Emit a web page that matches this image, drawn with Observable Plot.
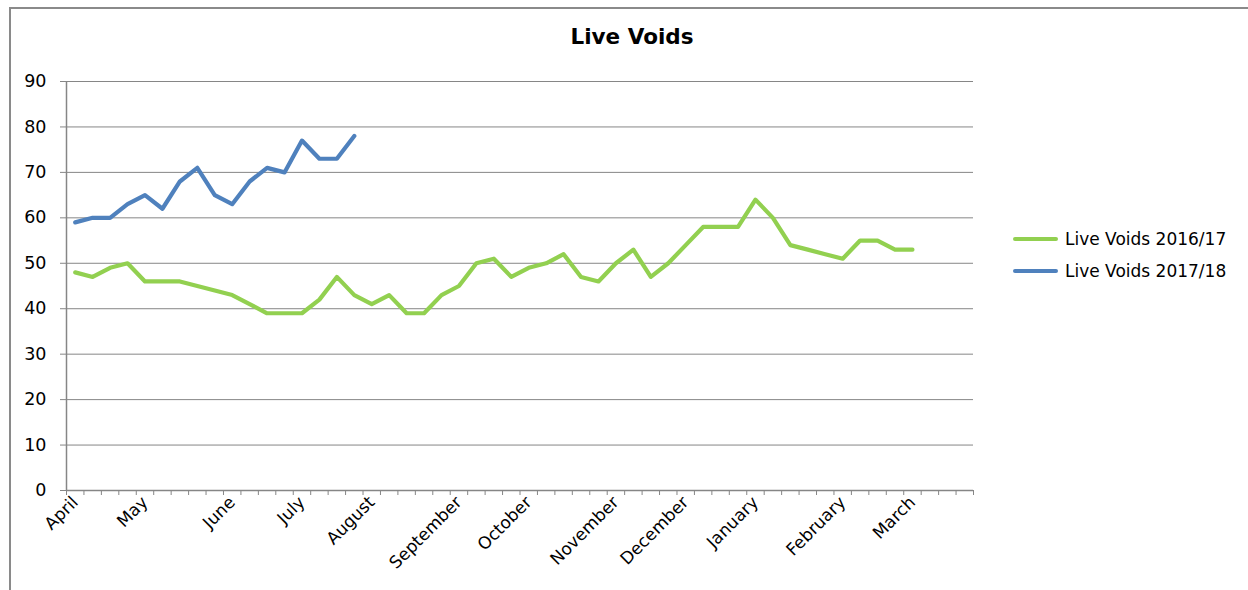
<!DOCTYPE html>
<html>
<head>
<meta charset="utf-8">
<script src="https://cdn.jsdelivr.net/npm/d3@7"></script>
<script src="https://cdn.jsdelivr.net/npm/@observablehq/plot@0.6"></script>
<style>
  html, body { margin: 0; padding: 0; background: #fff; }
  #wrap { position: relative; width: 1248px; height: 590px; overflow: hidden; font-family: "DejaVu Sans", sans-serif; }
  #border { position: absolute; left: 9px; top: 7px; right: -5px; bottom: -5px; border-top: 2px solid #8a8a8a; border-left: 2px solid #8a8a8a; pointer-events: none; }
  #title { position: absolute; left: 0; width: 1264px; top: 24px; text-align: center; font-weight: bold; font-size: 21.5px; color: #000; }
  .leg { position: absolute; left: 1013px; font-size: 17px; color: #000; display: flex; align-items: center; white-space: nowrap; }
  .leg span.sw { display: inline-block; width: 45px; height: 4px; border-radius: 2px; margin-right: 7px; }
  #chart { position: absolute; left: 0; top: 0; }
</style>
</head>
<body>
<div id="wrap">
  <div id="chart"></div>
  <div id="title"></div>
  <div id="legend"></div>
  <div id="border"></div>
</div>
<script>
// ---- data ----
const chartTitle = "Live Voids";
const months = ["April","May","June","July","August","September","October","November","December","January","February","March"];
const monthStartWeek = [0, 4, 9, 13, 17, 22, 26, 31, 35, 39, 44, 48];
const weekCount = 52;
const seriesNames = ["Live Voids 2016/17", "Live Voids 2017/18"];
const seriesColors = ["#92D050", "#4F81BD"];
const voids2016 = [48,47,49,50,46,46,46,45,44,43,41,39,39,39,42,47,43,41,43,39,39,43,45,50,51,47,49,50,52,47,46,50,53,47,50,54,58,58,58,64,60,54,53,52,51,55,55,53,53];
const voids2017 = [59,60,60,63,65,62,68,71,65,63,68,71,70,77,73,73,78];
const yTicks = [0,10,20,30,40,50,60,70,80,90];

// ---- build table ----
const rows = [];
voids2016.forEach((v, i) => rows.push({series: seriesNames[0], week: i + 0.5, value: v}));
voids2017.forEach((v, i) => rows.push({series: seriesNames[1], week: i + 0.5, value: v}));
const monthTickPos = monthStartWeek.map(w => w + 0.5);
const monthLabel = new Map(monthTickPos.map((p, k) => [p, months[k]]));

const gray = "#868686";
const plot = Plot.plot({
  width: 1248,
  height: 590,
  marginLeft: 66,
  marginRight: 275,
  marginTop: 81,
  marginBottom: 100,
  style: {fontFamily: "DejaVu Sans, sans-serif", fontSize: "16px", color: "#000", background: "transparent"},
  x: {domain: [0, weekCount], type: "linear"},
  y: {domain: [0, 90]},
  color: {domain: seriesNames, range: seriesColors},
  marks: [
    Plot.gridY(yTicks, {stroke: gray, strokeOpacity: 1, strokeWidth: 1}),
    Plot.axisY({ticks: yTicks, tickSize: 6, tickPadding: 14, stroke: gray, fill: "#000", label: null, fontSize: 17.5}),
    Plot.ruleX([0], {stroke: gray, strokeWidth: 1.5}),
    Plot.ruleY([0], {stroke: gray, strokeWidth: 1.5}),
    Plot.axisX({ticks: d3.range(weekCount + 1), tickSize: 5, tickFormat: () => "", stroke: gray, label: null}),
    Plot.axisX({ticks: monthTickPos, tickSize: 0, tickPadding: 9, tickRotate: -45, tickFormat: d => monthLabel.get(d), fill: "#000", label: null, fontSize: 17}),
    Plot.line(rows, {x: "week", y: "value", z: "series", stroke: "series", strokeWidth: 4.2, strokeLinejoin: "round", strokeLinecap: "round"})
  ]
});
document.getElementById("chart").appendChild(plot);
document.getElementById("title").textContent = chartTitle;

const legend = document.getElementById("legend");
const legTops = [229, 261];
seriesNames.forEach((name, k) => {
  const d = document.createElement("div");
  d.className = "leg";
  d.style.top = legTops[k] + "px";
  const sw = document.createElement("span");
  sw.className = "sw";
  sw.style.background = seriesColors[k];
  d.appendChild(sw);
  d.appendChild(document.createTextNode(name));
  legend.appendChild(d);
});
</script>
</body>
</html>
